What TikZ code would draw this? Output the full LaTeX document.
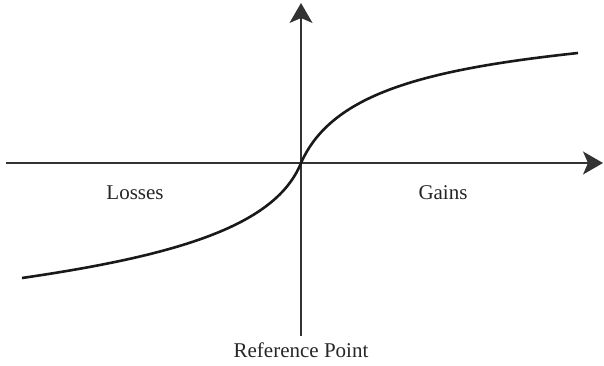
\documentclass[tikz,border=0pt]{standalone}
\usepackage{fontspec}
\setmainfont{Liberation Serif}
\usetikzlibrary{arrows.meta,positioning}

\begin{document}
\begin{tikzpicture}[
    x=1pt, y=-1pt,
    axis/.style={-{Stealth[length=20pt, width=23pt, inset=5pt]}, line width=1.3pt, draw=black!80},
    value/.style={line width=2.6pt, draw=black!90},
    lbl/.style={font=\fontsize{21}{24}\selectfont, text=black!85, inner sep=0pt, anchor=base}
]
\useasboundingbox (0,0) rectangle (604,366);
\coordinate (origin) at (301,163);
\coordinate (xstart) at (6,163);
\coordinate (xend) at (603,163);
\coordinate (ystart) at (301,336);
\coordinate (yend) at (301,3);
\coordinate (lossend) at (22,278);
\coordinate (gainend) at (578,53);

\draw[axis] (xstart) -- (xend);
\draw[axis] (ystart) -- (yend);

\draw[value] (lossend) .. controls (180,255) and (276,225) .. (origin)
    .. controls (331,95) and (420,70) .. (gainend);

\node[lbl] (losses) at (135,199) {Losses};
\node[lbl] (gains) at (443,199) {Gains};
\node[lbl] (refpoint) at (301,357) {Reference Point};
\end{tikzpicture}
\end{document}
